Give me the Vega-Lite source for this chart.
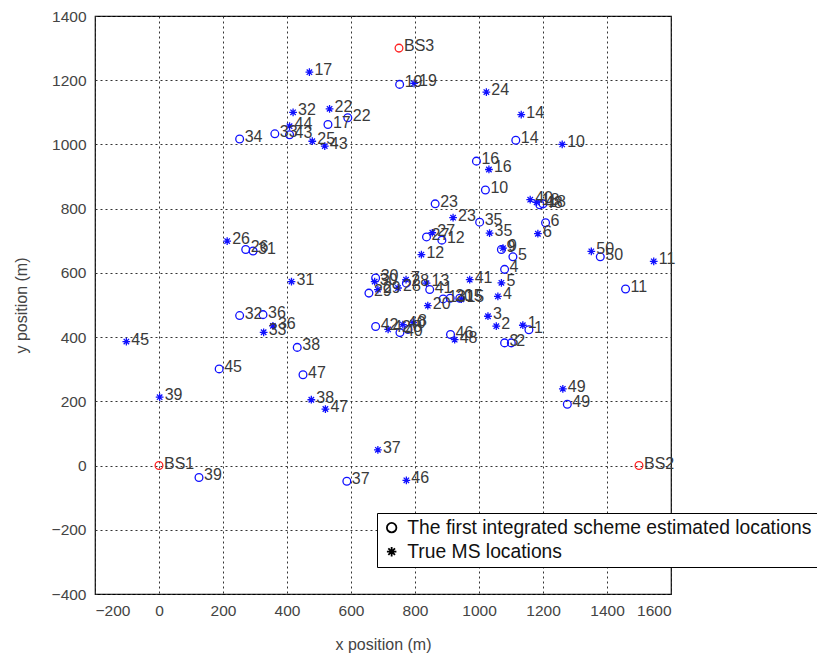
{
  "$schema": "https://vega.github.io/schema/vega-lite/v6.json",
  "autosize": "none",
  "width": 576,
  "height": 578,
  "padding": {"left": 95, "top": 16, "right": 146, "bottom": 63},
  "background": "white",
  "config": {
    "font": "Liberation Sans",
    "view": {"stroke": "black", "strokeWidth": 1.2},
    "axis": {
      "domain": false,
      "ticks": false,
      "grid": true,
      "gridColor": "#333333",
      "gridDash": [2, 3],
      "gridOpacity": 1,
      "gridWidth": 1,
      "format": "d",
      "labelFont": "Liberation Sans",
      "labelFontSize": 15.5,
      "labelColor": "#444444",
      "labelPadding": 9,
      "titleFont": "Liberation Sans",
      "titleFontSize": 16,
      "titleFontWeight": "normal",
      "titleColor": "#444444"
    },
    "legend": {
      "orient": "none",
      "legendX": 282,
      "legendY": 497,
      "strokeColor": "black",
      "fillColor": "white",
      "padding": 5,
      "labelFont": "Liberation Sans",
      "labelFontSize": 19.3,
      "labelColor": "#111111",
      "symbolStrokeColor": "black",
      "symbolFillColor": "transparent",
      "symbolStrokeWidth": 1.8,
      "symbolSize": 90,
      "rowPadding": 4,
      "labelOffset": 6,
      "labelLimit": 700
    }
  },
  "data": {
    "values": [
      {"x": 470, "y": 1225, "label": "17", "type": "True MS locations"},
      {"x": 797, "y": 1190, "label": "19", "type": "True MS locations"},
      {"x": 1023, "y": 1163, "label": "24", "type": "True MS locations"},
      {"x": 1132, "y": 1093, "label": "14", "type": "True MS locations"},
      {"x": 1260, "y": 1000, "label": "10", "type": "True MS locations"},
      {"x": 1031, "y": 922, "label": "16", "type": "True MS locations"},
      {"x": 919, "y": 772, "label": "23", "type": "True MS locations"},
      {"x": 1033, "y": 724, "label": "35", "type": "True MS locations"},
      {"x": 1160, "y": 828, "label": "40", "type": "True MS locations"},
      {"x": 1180, "y": 820, "label": "18", "type": "True MS locations"},
      {"x": 1184, "y": 722, "label": "6", "type": "True MS locations"},
      {"x": 1075, "y": 677, "label": "9", "type": "True MS locations"},
      {"x": 1070, "y": 569, "label": "5", "type": "True MS locations"},
      {"x": 1059, "y": 527, "label": "4", "type": "True MS locations"},
      {"x": 1028, "y": 465, "label": "3", "type": "True MS locations"},
      {"x": 1054, "y": 434, "label": "2", "type": "True MS locations"},
      {"x": 1137, "y": 437, "label": "1", "type": "True MS locations"},
      {"x": 1351, "y": 667, "label": "50", "type": "True MS locations"},
      {"x": 1546, "y": 636, "label": "11", "type": "True MS locations"},
      {"x": 1262, "y": 239, "label": "49", "type": "True MS locations"},
      {"x": 971, "y": 579, "label": "41", "type": "True MS locations"},
      {"x": 945, "y": 518, "label": "15", "type": "True MS locations"},
      {"x": 854, "y": 725, "label": "27", "type": "True MS locations"},
      {"x": 820, "y": 657, "label": "12", "type": "True MS locations"},
      {"x": 419, "y": 1100, "label": "32", "type": "True MS locations"},
      {"x": 533, "y": 1111, "label": "22", "type": "True MS locations"},
      {"x": 408, "y": 1057, "label": "44", "type": "True MS locations"},
      {"x": 479, "y": 1010, "label": "25", "type": "True MS locations"},
      {"x": 518, "y": 995, "label": "43", "type": "True MS locations"},
      {"x": 213, "y": 699, "label": "26", "type": "True MS locations"},
      {"x": 414, "y": 573, "label": "31", "type": "True MS locations"},
      {"x": 356, "y": 435, "label": "36", "type": "True MS locations"},
      {"x": 327, "y": 415, "label": "33", "type": "True MS locations"},
      {"x": -102, "y": 386, "label": "45", "type": "True MS locations"},
      {"x": 2, "y": 213, "label": "39", "type": "True MS locations"},
      {"x": 476, "y": 205, "label": "38", "type": "True MS locations"},
      {"x": 520, "y": 176, "label": "47", "type": "True MS locations"},
      {"x": 684, "y": 49, "label": "37", "type": "True MS locations"},
      {"x": 773, "y": -46, "label": "46", "type": "True MS locations"},
      {"x": 924, "y": 392, "label": "48", "type": "True MS locations"},
      {"x": 716, "y": 424, "label": "42", "type": "True MS locations"},
      {"x": 762, "y": 439, "label": "40", "type": "True MS locations"},
      {"x": 794, "y": 445, "label": "8", "type": "True MS locations"},
      {"x": 674, "y": 573, "label": "30", "type": "True MS locations"},
      {"x": 684, "y": 548, "label": "29", "type": "True MS locations"},
      {"x": 747, "y": 553, "label": "28", "type": "True MS locations"},
      {"x": 772, "y": 579, "label": "7", "type": "True MS locations"},
      {"x": 836, "y": 568, "label": "13", "type": "True MS locations"},
      {"x": 840, "y": 498, "label": "20", "type": "True MS locations"},
      {"x": 752, "y": 1187, "label": "19", "type": "The first integrated scheme estimated locations"},
      {"x": 1115, "y": 1013, "label": "14", "type": "The first integrated scheme estimated locations"},
      {"x": 992, "y": 948, "label": "16", "type": "The first integrated scheme estimated locations"},
      {"x": 1020, "y": 858, "label": "10", "type": "The first integrated scheme estimated locations"},
      {"x": 863, "y": 815, "label": "23", "type": "The first integrated scheme estimated locations"},
      {"x": 1002, "y": 758, "label": "35", "type": "The first integrated scheme estimated locations"},
      {"x": 1208, "y": 756, "label": "6", "type": "The first integrated scheme estimated locations"},
      {"x": 1070, "y": 673, "label": "9", "type": "The first integrated scheme estimated locations"},
      {"x": 1106, "y": 650, "label": "5", "type": "The first integrated scheme estimated locations"},
      {"x": 1080, "y": 611, "label": "4", "type": "The first integrated scheme estimated locations"},
      {"x": 1080, "y": 382, "label": "3", "type": "The first integrated scheme estimated locations"},
      {"x": 1101, "y": 382, "label": "2", "type": "The first integrated scheme estimated locations"},
      {"x": 1156, "y": 423, "label": "1", "type": "The first integrated scheme estimated locations"},
      {"x": 1379, "y": 650, "label": "50", "type": "The first integrated scheme estimated locations"},
      {"x": 1458, "y": 550, "label": "11", "type": "The first integrated scheme estimated locations"},
      {"x": 1276, "y": 191, "label": "49", "type": "The first integrated scheme estimated locations"},
      {"x": 836, "y": 712, "label": "27", "type": "The first integrated scheme estimated locations"},
      {"x": 884, "y": 702, "label": "12", "type": "The first integrated scheme estimated locations"},
      {"x": 252, "y": 1017, "label": "34", "type": "The first integrated scheme estimated locations"},
      {"x": 362, "y": 1033, "label": "33", "type": "The first integrated scheme estimated locations"},
      {"x": 408, "y": 1030, "label": "43", "type": "The first integrated scheme estimated locations"},
      {"x": 528, "y": 1062, "label": "17", "type": "The first integrated scheme estimated locations"},
      {"x": 590, "y": 1083, "label": "22", "type": "The first integrated scheme estimated locations"},
      {"x": 271, "y": 673, "label": "26", "type": "The first integrated scheme estimated locations"},
      {"x": 294, "y": 668, "label": "31", "type": "The first integrated scheme estimated locations"},
      {"x": 252, "y": 467, "label": "32", "type": "The first integrated scheme estimated locations"},
      {"x": 325, "y": 470, "label": "36", "type": "The first integrated scheme estimated locations"},
      {"x": 188, "y": 301, "label": "45", "type": "The first integrated scheme estimated locations"},
      {"x": 125, "y": -37, "label": "39", "type": "The first integrated scheme estimated locations"},
      {"x": 432, "y": 368, "label": "38", "type": "The first integrated scheme estimated locations"},
      {"x": 450, "y": 283, "label": "47", "type": "The first integrated scheme estimated locations"},
      {"x": 677, "y": 433, "label": "42", "type": "The first integrated scheme estimated locations"},
      {"x": 587, "y": -49, "label": "37", "type": "The first integrated scheme estimated locations"},
      {"x": 911, "y": 408, "label": "46", "type": "The first integrated scheme estimated locations"},
      {"x": 1190, "y": 812, "label": "48", "type": "The first integrated scheme estimated locations"},
      {"x": 1200, "y": 815, "label": "18", "type": "The first integrated scheme estimated locations"},
      {"x": 753, "y": 414, "label": "40", "type": "The first integrated scheme estimated locations"},
      {"x": 778, "y": 424, "label": "8", "type": "The first integrated scheme estimated locations"},
      {"x": 677, "y": 584, "label": "30", "type": "The first integrated scheme estimated locations"},
      {"x": 656, "y": 537, "label": "29", "type": "The first integrated scheme estimated locations"},
      {"x": 773, "y": 568, "label": "28", "type": "The first integrated scheme estimated locations"},
      {"x": 846, "y": 548, "label": "41", "type": "The first integrated scheme estimated locations"},
      {"x": 888, "y": 519, "label": "13", "type": "The first integrated scheme estimated locations"},
      {"x": 910, "y": 521, "label": "20", "type": "The first integrated scheme estimated locations"},
      {"x": 940, "y": 521, "label": "15", "type": "The first integrated scheme estimated locations"},
      {"x": 0, "y": 0, "label": "BS1", "type": "BS"},
      {"x": 1500, "y": 0, "label": "BS2", "type": "BS"},
      {"x": 750, "y": 1300, "label": "BS3", "type": "BS"}
    ]
  },
  "encoding": {
    "x": {
      "field": "x",
      "type": "quantitative",
      "title": "x position (m)",
      "scale": {"domain": [-200, 1600], "nice": false, "zero": false},
      "axis": {"values": [-200, 0, 200, 400, 600, 800, 1000, 1200, 1400, 1600], "titlePadding": 18}
    },
    "y": {
      "field": "y",
      "type": "quantitative",
      "title": "y position (m)",
      "scale": {"domain": [-400, 1400], "nice": false, "zero": false},
      "axis": {"values": [-400, -200, 0, 200, 400, 600, 800, 1000, 1200, 1400], "titlePadding": 22}
    }
  },
  "layer": [
    {
      "transform": [{"filter": "datum.type !== 'BS'"}],
      "mark": {"type": "point", "filled": false, "color": "#1010ff", "strokeWidth": 1.3, "size": 60, "opacity": 1},
      "encoding": {
        "shape": {
          "field": "type",
          "type": "nominal",
          "title": null,
          "scale": {
            "domain": ["The first integrated scheme estimated locations", "True MS locations"],
            "range": ["circle", "M0,-1L0,1M-1,0L1,0M-0.7,-0.7L0.7,0.7M-0.7,0.7L0.7,-0.7"]
          }
        }
      }
    },
    {
      "transform": [{"filter": "datum.type === 'BS'"}],
      "mark": {"type": "point", "filled": false, "color": "#ff2020", "strokeWidth": 1.3, "size": 60, "shape": "circle", "opacity": 1}
    },
    {
      "mark": {"type": "text", "align": "left", "baseline": "middle", "dx": 5, "dy": -2, "fontSize": 16, "color": "#3a3a3a", "font": "Liberation Sans"},
      "encoding": {"text": {"field": "label", "type": "nominal"}}
    }
  ]
}
